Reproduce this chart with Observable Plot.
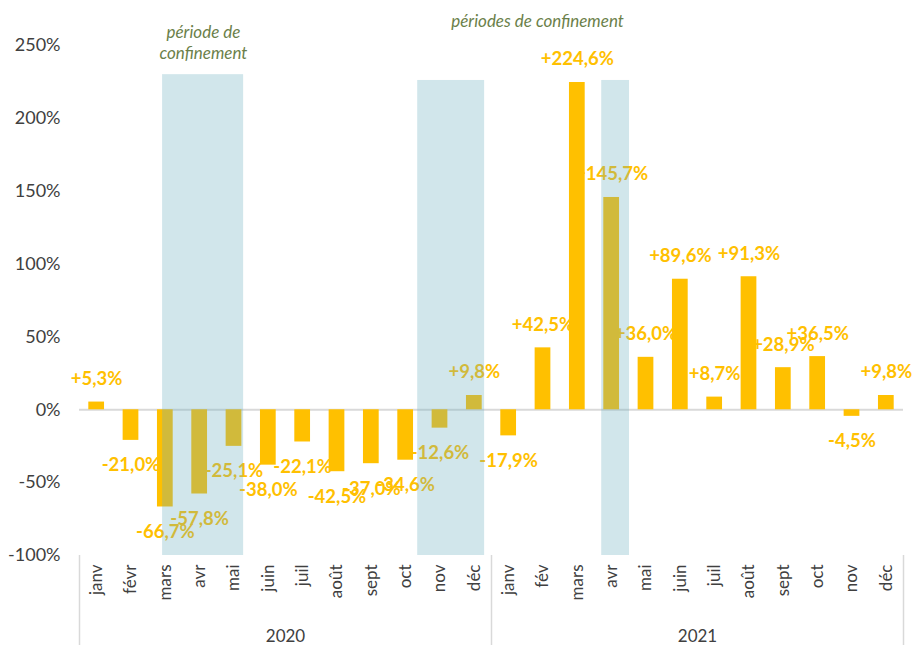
<!DOCTYPE html>
<html>
<head>
<meta charset="utf-8">
<script src="https://cdn.jsdelivr.net/npm/d3@7"></script>
<script src="https://cdn.jsdelivr.net/npm/@observablehq/plot@0.6"></script>
<style>
  html, body { margin: 0; padding: 0; background: #fff; }
  #chart svg { display: block; }
</style>
</head>
<body>
<div id="chart"></div>
<script>
// ---- data ----
const years = ["2020", "2021"];
const months2020 = ["janv", "févr", "mars", "avr", "mai", "juin", "juil", "août", "sept", "oct", "nov", "déc"];
const months2021 = ["janv", "fév", "mars", "avr", "mai", "juin", "juil", "août", "sept", "oct", "nov", "déc"];
const values2020 = [5.3, -21.0, -66.7, -57.8, -25.1, -38.0, -22.1, -42.5, -37.0, -34.6, -12.6, 9.8];
const values2021 = [-17.9, 42.5, 224.6, 145.7, 36.0, 89.6, 8.7, 91.3, 28.9, 36.5, -4.5, 9.8];
const yTicks = [-100, -50, 0, 50, 100, 150, 200, 250];
// lockdown shading (in month-slot units)
const shadeStart = [2.42, 9.85, 15.21];
const shadeEnd = [4.78, 11.80, 16.02];
const shadeTop = [230, 226, 226];
// annotations
const note1 = ["période de", "confinement"];
const note1Pos = 3.61;
const note2 = "périodes de confinement";
const note2Pos = 13.34;

// ---- build tables ----
const months = [...months2020, ...months2021];
const values = [...values2020, ...values2021];
const data = values.map((v, i) => ({i, month: months[i], value: v}));
const shades = shadeStart.map((s, k) => ({start: s, end: shadeEnd[k], top: shadeTop[k]}));
const fmt = v => (v > 0 ? "+" : "") + v.toFixed(1).replace(".", ",") + "%";

const gold = "#FFC000";
const noteColor = "#6b7f4a";
const font = "Lato, 'Open Sans', sans-serif";
const labelStyle = {fill: gold, fontWeight: "bold", fontSize: 18.5};
const noteStyle = {fill: noteColor, fontStyle: "italic", fontSize: 17, frameAnchor: "top", lineAnchor: "middle"};

const chart = Plot.plot({
  width: 913,
  height: 646,
  marginLeft: 79,
  marginRight: 10,
  marginTop: 45,
  marginBottom: 91,
  style: {fontFamily: font, color: "#404040", background: "#fff"},
  x: {type: "linear", domain: [0, months.length], axis: null},
  y: {domain: [yTicks[0], yTicks[yTicks.length - 1]], axis: null},
  marks: [
    Plot.axisY(yTicks, {tickFormat: d => d + "%", tickSize: 0, tickPadding: 19, fontSize: 18, fill: "#404040", label: null}),
    Plot.axisX(d3.range(months.length).map(i => i + 0.5), {
      tickFormat: d => months[Math.floor(d)], tickRotate: -90, tickSize: 0, tickPadding: 9,
      fontSize: 17, fill: "#404040", label: null
    }),
    Plot.axisX([0, 12, 24], {tickFormat: () => "", tickSize: 90, stroke: "#d9d9d9", strokeWidth: 1.5, label: null}),
    Plot.axisX([6, 18], {tickFormat: d => years[Math.floor(d / 12)], tickSize: 0, tickPadding: 74, fontSize: 17, fill: "#404040", label: null}),
    Plot.ruleY([0], {stroke: "#d9d9d9", strokeWidth: 2}),
    Plot.rectY(data, {x1: "i", x2: d => d.i + 1, y: "value", fill: gold, insetLeft: 9.3, insetRight: 9.3}),
    Plot.text(data.filter(d => d.value >= 0), {x: d => d.i + 0.5, y: "value", text: d => fmt(d.value), dy: -23, ...labelStyle}),
    Plot.text(data.filter(d => d.value < 0), {x: d => d.i + 0.5, y: "value", text: d => fmt(d.value), dy: 25, ...labelStyle}),
    Plot.rect(shades, {x1: "start", x2: "end", y1: yTicks[0], y2: "top", fill: "#6aaebf", fillOpacity: 0.31}),
    Plot.text([note1[0]], {x: () => note1Pos, text: d => d, dy: -13, ...noteStyle}),
    Plot.text([note1[1]], {x: () => note1Pos, text: d => d, dy: 8, ...noteStyle}),
    Plot.text([note2], {x: () => note2Pos, text: d => d, dy: -24, ...noteStyle})
  ]
});
document.getElementById("chart").appendChild(chart);
</script>
</body>
</html>
